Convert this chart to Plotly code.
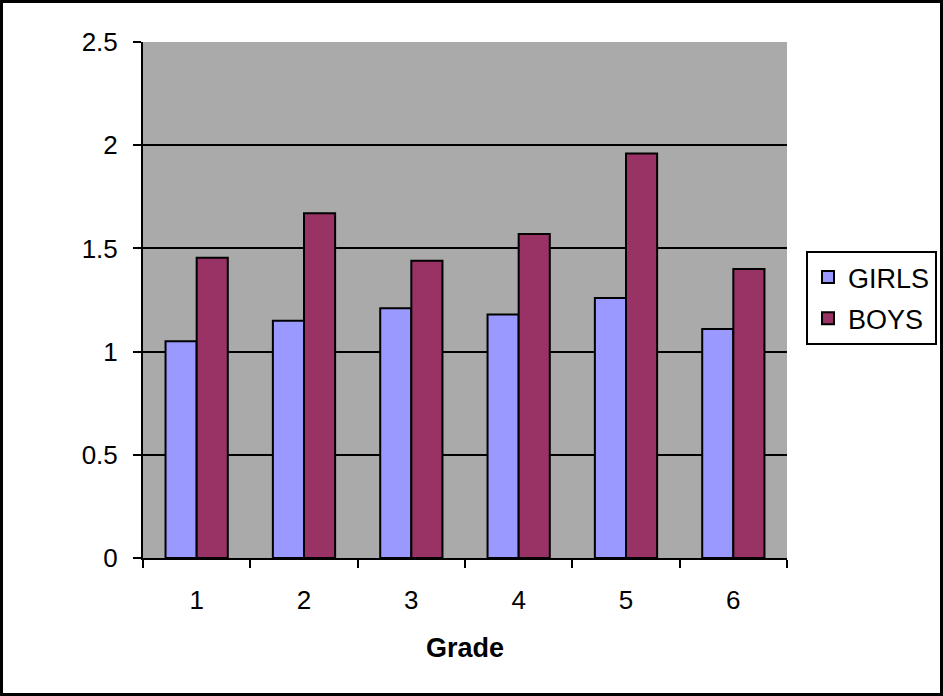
import plotly.graph_objects as go

grades = ["1", "2", "3", "4", "5", "6"]
girls = [1.05, 1.15, 1.21, 1.18, 1.26, 1.11]
boys = [1.455, 1.67, 1.44, 1.57, 1.96, 1.40]
y_ticks = [0, 0.5, 1, 1.5, 2, 2.5]
y_tick_labels = ["0", "0.5", "1", "1.5", "2", "2.5"]

W, H = 943, 696
L, R, T, B = 143, 156, 42, 138
pw, ph = W - L - R, H - T - B

font = "Liberation Sans, Arial, sans-serif"

fig = go.Figure()
fig.add_trace(go.Bar(x=grades, y=girls, name="GIRLS", legendgroup="g",
                     marker=dict(color="#9999FF", line=dict(color="black", width=2))))
fig.add_trace(go.Bar(x=grades, y=boys, name="BOYS", legendgroup="b",
                     marker=dict(color="#993366", line=dict(color="black", width=2))))

fig.update_layout(
    width=W, height=H,
    margin=dict(l=L, r=R, t=T, b=B, pad=0, autoexpand=False),
    paper_bgcolor="white",
    plot_bgcolor="#AAAAAA",
    barmode="group",
    bargap=0.42,
    bargroupgap=0,
    font=dict(family=font, size=26, color="black"),
    showlegend=True,
    legend=dict(
        x=1 + (806 - 787) / pw, xanchor="left",
        y=(558 - 298) / ph, yanchor="middle",
        bordercolor="black", borderwidth=2, bgcolor="white",
        font=dict(size=27), itemwidth=30, tracegroupgap=3,
    ),
    xaxis=dict(
        type="category",
        showline=True, linecolor="black", linewidth=2,
        ticks="outside", ticklen=8, tickcolor="black", tickwidth=2,
        tickson="boundaries",
        showgrid=False,
        title=dict(text="<b>Grade</b>", font=dict(size=27), standoff=24),
        ticklabelstandoff=18,
    ),
    yaxis=dict(
        range=[0, 2.5],
        tickvals=y_ticks, ticktext=y_tick_labels,
        showline=True, linecolor="black", linewidth=2,
        ticks="outside", ticklen=8, tickcolor="black", tickwidth=2,
        showgrid=True, gridcolor="black", gridwidth=2,
        zeroline=False,
        ticklabelstandoff=10,
    ),
)

fig.add_shape(type="rect", xref="paper", yref="paper",
              x0=-(L - 1.5) / pw, x1=1 + (R - 1.5) / pw,
              y0=-(B - 1.5) / ph, y1=1 + (T - 1.5) / ph,
              line=dict(color="black", width=3), fillcolor="rgba(0,0,0,0)",
              layer="above")

fig.write_html("out.html")
